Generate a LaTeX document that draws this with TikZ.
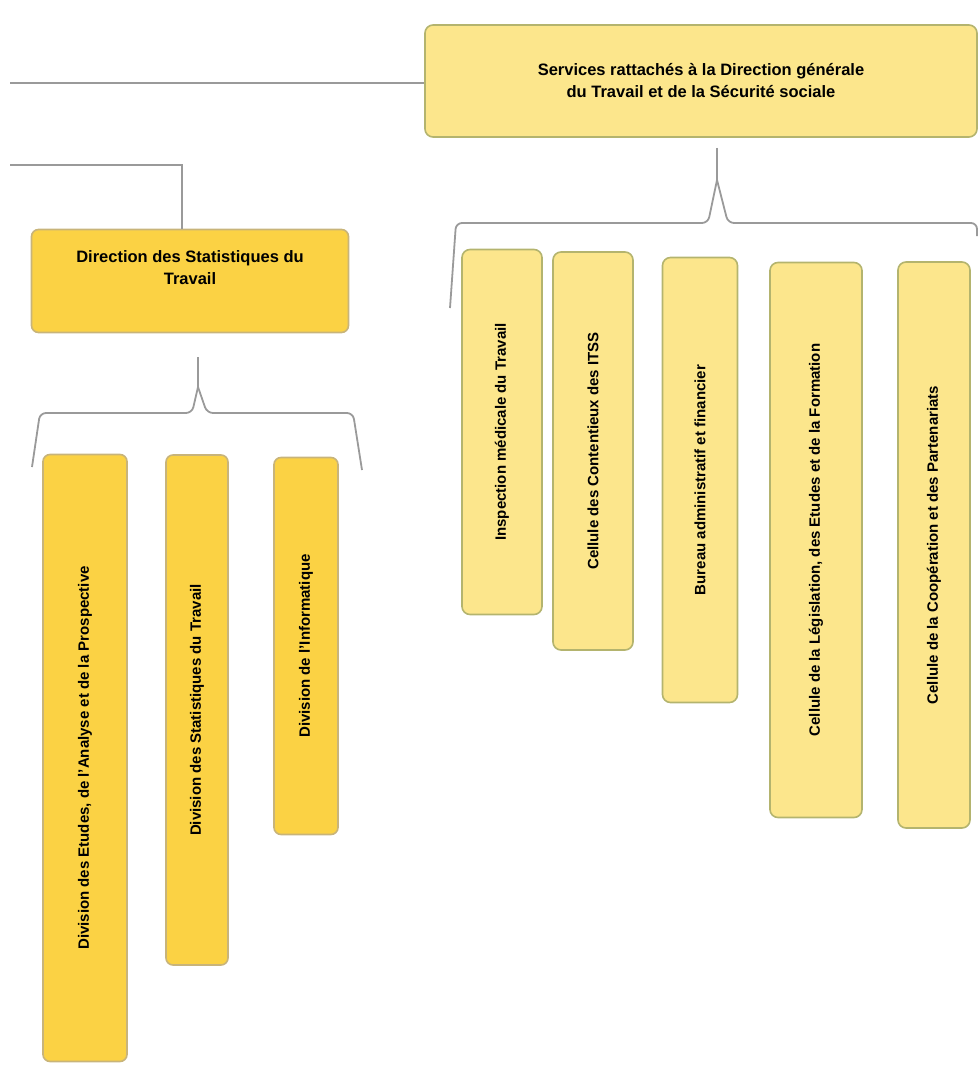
\documentclass[tikz,border=0pt]{standalone}
\usepackage{fontspec}
\setmainfont{Liberation Sans}
\usetikzlibrary{positioning}
\definecolor{paleyellow}{HTML}{FCE68C}
\definecolor{olivegrey}{HTML}{B4B46E}
\definecolor{goldyellow}{HTML}{FBD244}
\definecolor{tangrey}{HTML}{C8B47A}
\definecolor{linkgrey}{HTML}{9A9A9A}
\tikzset{
  service/.style={draw=olivegrey, fill=paleyellow, line width=1.6pt,
    rounded corners=8pt, inner sep=0pt, align=center,
    font=\bfseries\fontsize{16.5}{22}\selectfont},
  division/.style={draw=tangrey, fill=goldyellow, line width=1.6pt,
    rounded corners=7pt, inner sep=0pt, align=center,
    font=\bfseries\fontsize{16.5}{22}\selectfont},
  upright/.style={rotate=90, inner sep=0pt, font=\bfseries\fontsize{15}{18}\selectfont},
  link/.style={draw=linkgrey, line width=1.8pt},
}
\begin{document}
\begin{tikzpicture}[x=1pt, y=-1pt]
  \useasboundingbox (0,0) rectangle (979,1065);
  % services of the direction generale
  \node[service, minimum width=552pt, minimum height=112pt] (dgts) at (701,81)
    {Services rattachés à la Direction générale\\du Travail et de la Sécurité sociale};
  \node[service, minimum width=80pt, minimum height=365pt] (inspect) at (502,432) {};
  \node[service, minimum width=80pt, minimum height=398pt] (contentieux) at (593,451) {};
  \node[service, minimum width=75pt, minimum height=445pt] (bureau) at (700,480) {};
  \node[service, minimum width=92pt, minimum height=555pt] (legis) at (816,540) {};
  \node[service, minimum width=72pt, minimum height=566pt] (coop) at (934,545) {};
  \node[upright] at (inspect) {Inspection médicale du Travail};
  \node[upright] at (contentieux) {Cellule des Contentieux des ITSS};
  \node[upright] at (bureau) {Bureau administratif et financier};
  \node[upright] at (legis) {Cellule de la Législation, des Etudes et de la Formation};
  \node[upright] at (coop) {Cellule de la Coopération et des Partenariats};
  % direction des statistiques
  \node[division, minimum width=317pt, minimum height=103pt] (dst) at (190,281) {};
  \node[font=\bfseries\fontsize{16.5}{22}\selectfont, align=center, inner sep=0pt] (dst-label)
    at ([yshift=13pt]dst.center) {Direction des Statistiques du\\Travail};
  \node[division, minimum width=84pt, minimum height=607pt] (etudes) at (85,758) {};
  \node[division, minimum width=62pt, minimum height=510pt] (stats) at (197,710) {};
  \node[division, minimum width=64pt, minimum height=377pt] (info) at (306,646) {};
  \node[upright] at (etudes) {Division des Etudes, de l'Analyse et de la Prospective};
  \node[upright] at (stats) {Division des Statistiques du Travail};
  \node[upright] at (info) {Division de l'Informatique};
  % lines coming from the left
  \coordinate (from-a) at (10,83);
  \coordinate (from-b) at (10,165);
  \draw[link] (from-a) -- (from-a -| dgts.west);
  \draw[link] (from-b) -| ([xshift=-8pt]dst.north);
  % brace under the services
  \coordinate (srv-fork) at (717,180);
  \coordinate (srv-bar) at (717,223);
  \coordinate (srv-left) at (450,308);
  \coordinate (srv-right) at (977,236);
  \draw[link] ([yshift=-10pt]dgts.south -| srv-fork) -- (srv-fork);
  \draw[link, rounded corners=6pt] (srv-fork) -- ([xshift=-9pt]srv-bar)
    -- ([xshift=6pt]srv-bar -| srv-left) -- (srv-left);
  \draw[link, rounded corners=6pt] (srv-fork) -- ([xshift=11pt]srv-bar)
    -- (srv-bar -| srv-right) -- (srv-right);
  % brace under the direction des statistiques
  \coordinate (dst-fork) at (198,387);
  \coordinate (dst-bar) at (198,413);
  \coordinate (dst-left) at (32,467);
  \coordinate (dst-right) at (362,470);
  \draw[link] ([yshift=-24pt]dst.south -| dst-fork) -- (dst-fork);
  \draw[link, rounded corners=6pt] (dst-fork) -- ([xshift=-6pt]dst-bar)
    -- ([xshift=8pt]dst-bar -| dst-left) -- (dst-left);
  \draw[link, rounded corners=6pt] (dst-fork) -- ([xshift=9pt]dst-bar)
    -- ([xshift=-9pt]dst-bar -| dst-right) -- (dst-right);
\end{tikzpicture}
\end{document}
